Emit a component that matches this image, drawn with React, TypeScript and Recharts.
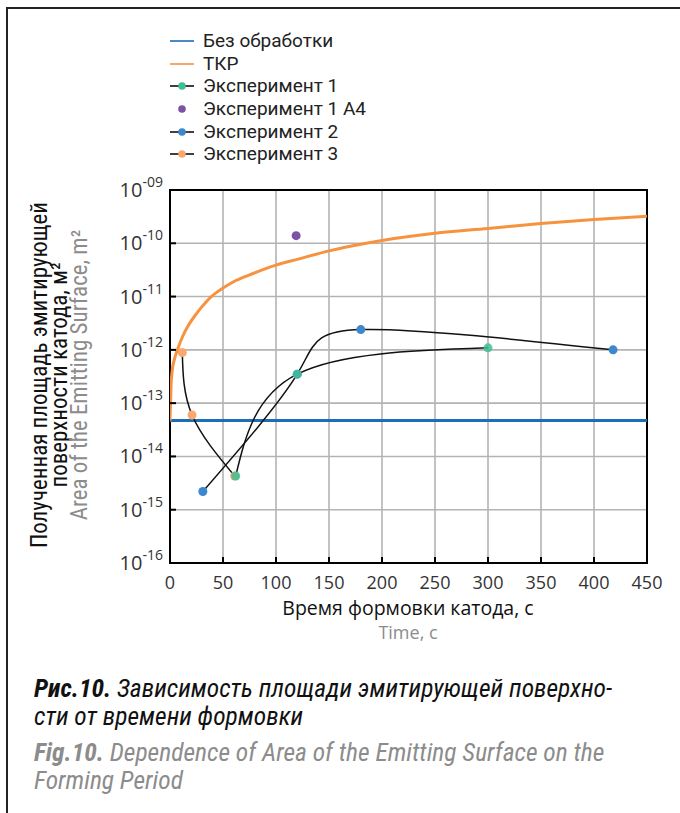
import {
  CartesianGrid,
  Line,
  LineChart,
  ReferenceArea,
  XAxis,
  YAxis,
} from "recharts";

const COLOR_BASE = "#1b6fb6";
const COLOR_TKR = "#f7923f";
const COLOR_EXP1 = "#3fbf95";
const COLOR_A4 = "#7b52a6";
const COLOR_EXP2 = "#3b88cf";
const COLOR_EXP3 = "#f9a86f";
const COLOR_GRID = "#b3b3b3";
const COLOR_GRAY_TEXT = "#8c8c8c";

const TEXT_FONT = "'Open Sans', 'Noto Sans', sans-serif";
const LEGEND_FONT = "Roboto, 'Open Sans', sans-serif";
const NARROW_FONT = "'Liberation Sans Narrow', 'Roboto Condensed', 'Open Sans', sans-serif";

// оси
const timeTicks = [0, 50, 100, 150, 200, 250, 300, 350, 400, 450];
const areaTicks = [1e-16, 1e-15, 1e-14, 1e-13, 1e-12, 1e-11, 1e-10, 1e-9];

// Без обработки
const baseTime = [0, 450];
const baseArea = [4.7e-14, 4.7e-14];

// ТКР
const tkrTime = [0, 1, 2, 4, 7, 12, 17, 25, 30, 39, 45, 50, 60, 75, 100, 120, 150, 185, 200, 250, 300, 350, 400, 450];
const tkrArea = [
  4.7e-14, 2.2e-13, 4e-13, 6.5e-13, 1e-12, 1.8e-12, 2.8e-12, 4.8e-12, 6.4e-12, 1e-11, 1.24e-11, 1.45e-11,
  1.9e-11, 2.55e-11, 3.9e-11, 5e-11, 7.2e-11, 1e-10, 1.13e-10, 1.55e-10, 1.9e-10, 2.35e-10, 2.8e-10, 3.2e-10,
];

// Эксперимент 1
const exp1Time = [62, 120, 300];
const exp1Area = [4.3e-15, 3.5e-13, 1.09e-12];

// Эксперимент 1 А4
const a4Time = [119];
const a4Area = [1.39e-10];

// Эксперимент 2
const exp2Time = [31, 120, 180, 418];
const exp2Area = [2.2e-15, 3.5e-13, 2.4e-12, 1.0e-12];

// Эксперимент 3
const exp3Time = [11.6, 20.8, 61];
const exp3Area = [8.9e-13, 6e-14, 4.3e-15];

const zip = (t: number[], a: number[]) => t.map((v, i) => ({ t: v, a: a[i] }));

const baseData = zip(baseTime, baseArea);
const tkrData = zip(tkrTime, tkrArea);
const exp1Data = zip(exp1Time, exp1Area);
const a4Data = zip(a4Time, a4Area);
const exp2Data = zip(exp2Time, exp2Area);
const exp3Data = zip(exp3Time, exp3Area);

const legendItems = [
  { label: "Без обработки", line: COLOR_BASE, dot: null },
  { label: "ТКР", line: COLOR_TKR, dot: null },
  { label: "Эксперимент 1", line: "#111", dot: COLOR_EXP1 },
  { label: "Эксперимент 1 А4", line: null, dot: COLOR_A4 },
  { label: "Эксперимент 2", line: "#111", dot: COLOR_EXP2 },
  { label: "Эксперимент 3", line: "#111", dot: COLOR_EXP3 },
];

function YTick({ x, y, payload }: any) {
  const exp = Math.round(Math.log10(payload.value));
  const sup = (exp < 0 ? "-" : "") + String(Math.abs(exp)).padStart(2, "0");
  return (
    <g>
      <line x1={x} x2={x + 6} y1={y} y2={y} stroke="#000" strokeWidth={2} />
      <text x={x - 7} y={y + 7} textAnchor="end" fill="#333" fontFamily={TEXT_FONT} fontSize={20}>
        <tspan>10</tspan>
        <tspan dy={-10} fontSize={14}>
          {sup}
        </tspan>
      </text>
    </g>
  );
}

function XTick({ x, y, payload }: any) {
  return (
    <g>
      <line x1={x} x2={x} y1={y} y2={y - 6} stroke="#000" strokeWidth={2} />
      <text x={x} y={y + 26} textAnchor="middle" fill="#333" fontFamily={TEXT_FONT} fontSize={18}>
        {payload.value}
      </text>
    </g>
  );
}

function Legend() {
  return (
    <div style={{ position: "absolute", left: 169, top: 30, fontFamily: LEGEND_FONT, fontSize: 19, color: "#222" }}>
      {legendItems.map((item) => (
        <div key={item.label} style={{ display: "flex", alignItems: "center", height: 22.6 }}>
          <svg width={26} height={12} style={{ marginRight: 8 }}>
            {item.line && <line x1={1} x2={25} y1={6} y2={6} stroke={item.line} strokeWidth={1.6} />}
            {item.dot && <circle cx={13} cy={6} r={3.8} fill={item.dot} />}
          </svg>
          <span style={{ lineHeight: "20px" }}>{item.label}</span>
        </div>
      ))}
    </div>
  );
}

export default function App() {
  return (
    <div style={{ position: "absolute", left: 0, top: 0, width: 680, height: 813, background: "#fff" }}>
      {/* рамка страницы */}
      <div
        style={{
          position: "absolute",
          left: 6,
          top: 7,
          right: 0,
          bottom: 0,
          borderTop: "2px solid #222",
          borderLeft: "2px solid #222",
        }}
      />
      <div style={{ position: "absolute", left: 0, top: 0 }}>
        <LineChart width={680} height={813} margin={{ top: 190, right: 33, bottom: 220, left: 0 }}>
          <CartesianGrid stroke={COLOR_GRID} strokeWidth={1.6} />
          <XAxis
            type="number"
            dataKey="t"
            domain={[0, 450]}
            ticks={timeTicks}
            height={30}
            tickSize={0}
            tickMargin={0}
            axisLine={false}
            tickLine={false}
            tick={<XTick />}
            allowDataOverflow
          />
          <YAxis
            type="number"
            dataKey="a"
            scale="log"
            domain={[1e-16, 1e-9]}
            ticks={areaTicks}
            width={170}
            tickSize={0}
            tickMargin={0}
            axisLine={false}
            tickLine={false}
            tick={<YTick />}
            allowDataOverflow
          />
          <Line data={baseData} dataKey="a" type="linear" stroke={COLOR_BASE} strokeWidth={3} dot={false} isAnimationActive={false} />
          <Line data={tkrData} dataKey="a" type="monotone" stroke={COLOR_TKR} strokeWidth={3} dot={false} isAnimationActive={false} />
          <Line
            data={exp3Data}
            dataKey="a"
            type="natural"
            stroke="#111"
            strokeWidth={1.5}
            dot={{ r: 4.5, fill: COLOR_EXP3, stroke: "none" }}
            isAnimationActive={false}
          />
          <Line
            data={exp2Data}
            dataKey="a"
            type="natural"
            stroke="#111"
            strokeWidth={1.5}
            dot={{ r: 4.5, fill: COLOR_EXP2, stroke: "none" }}
            isAnimationActive={false}
          />
          <Line
            data={exp1Data}
            dataKey="a"
            type="natural"
            stroke="#111"
            strokeWidth={1.5}
            dot={{ r: 4.5, fill: COLOR_EXP1, stroke: "none", fillOpacity: 0.85 }}
            isAnimationActive={false}
          />
          <Line
            data={a4Data}
            dataKey="a"
            stroke="none"
            dot={{ r: 4.5, fill: COLOR_A4, stroke: "none" }}
            isAnimationActive={false}
          />
          <ReferenceArea
            x1={0}
            x2={450}
            y1={1e-16}
            y2={1e-9}
            fill="none"
            stroke="#000"
            strokeWidth={2}
            ifOverflow="visible"
          />
        </LineChart>
      </div>

      <Legend />

      {/* подпись оси Y */}
      <div
        style={{
          position: "absolute",
          left: 60 - 250,
          top: 375 - 30,
          width: 500,
          height: 60,
          transform: "rotate(-90deg)",
          textAlign: "center",
          fontFamily: NARROW_FONT,
          fontSize: 23,
          lineHeight: "20px",
          color: "#111",
        }}
      >
        <div>Полученная площадь эмитирующей</div>
        <div>поверхности катода, м²</div>
        <div style={{ color: COLOR_GRAY_TEXT }}>Area of the Emitting Surface, m²</div>
      </div>

      {/* подпись оси X */}
      <div
        style={{
          position: "absolute",
          left: 208,
          top: 596,
          width: 400,
          textAlign: "center",
          fontFamily: TEXT_FONT,
          fontSize: 19.5,
          lineHeight: "24px",
          color: "#111",
        }}
      >
        <div>Время формовки катода, с</div>
        <div style={{ color: COLOR_GRAY_TEXT, fontSize: 18 }}>Time, c</div>
      </div>

      {/* подпись к рисунку */}
      <div
        style={{
          position: "absolute",
          left: 34,
          top: 675,
          width: 645,
          fontFamily: NARROW_FONT,
          fontStyle: "italic",
          fontSize: 25.5,
          lineHeight: "27.5px",
          color: "#111",
        }}
      >
        <div>
          <b>Рис.10.</b> Зависимость площади эмитирующей поверхно-
        </div>
        <div>сти от времени формовки</div>
        <div style={{ color: COLOR_GRAY_TEXT, marginTop: 9 }}>
          <b>Fig.10.</b> Dependence of Area of the Emitting Surface on the
        </div>
        <div style={{ color: COLOR_GRAY_TEXT }}>Forming Period</div>
      </div>
    </div>
  );
}
